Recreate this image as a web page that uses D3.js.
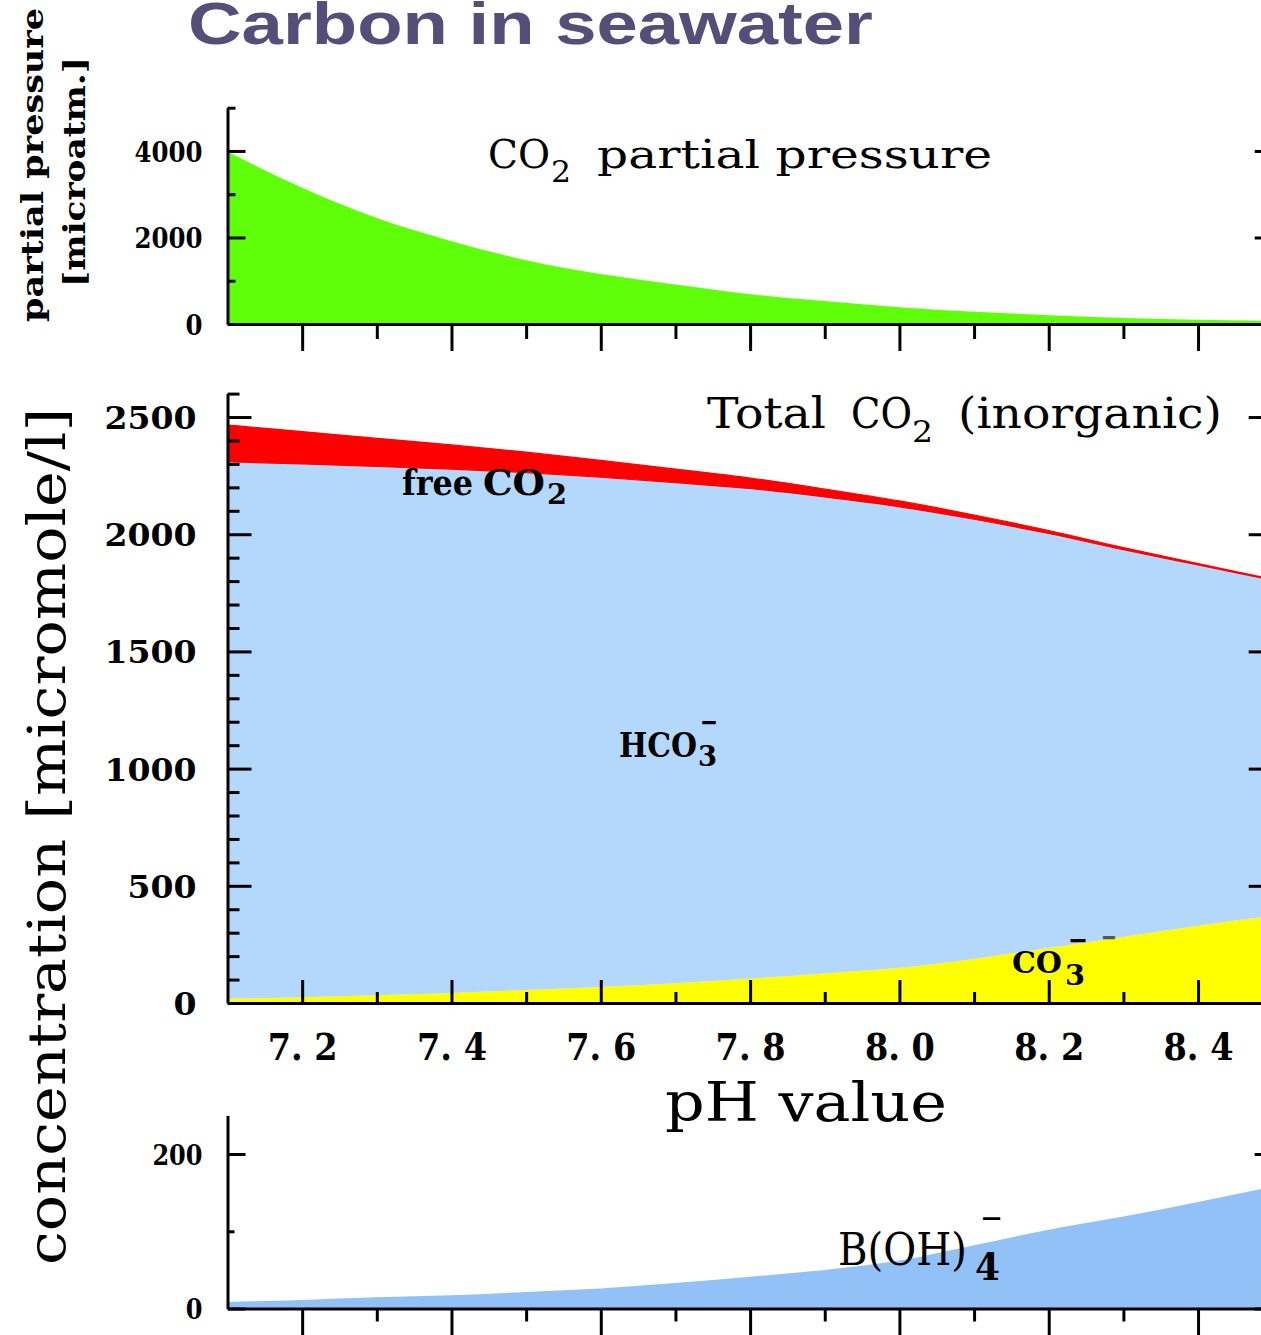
<!DOCTYPE html>
<html><head><meta charset="utf-8">
<script src="https://cdn.jsdelivr.net/npm/d3@7"></script>
<style>html,body{margin:0;padding:0;background:#fff;overflow:hidden}</style>
</head><body>
<svg id="chart" width="1261" height="1335"></svg>
<script>
// ---------- data ----------
const pH        = [7.1, 7.2, 7.3, 7.4, 7.5, 7.6, 7.7, 7.8, 7.9, 8.0, 8.1, 8.2, 8.3, 8.4, 8.5];
const pCO2      = [3980, 3150, 2450, 1915, 1475, 1155, 915, 690, 530, 390, 285, 205, 140, 100, 72];
const totalCO2  = [2466, 2438, 2409, 2381, 2350, 2315, 2278, 2240, 2193, 2142, 2082, 2016, 1943, 1875, 1808];
const freeCO2   = [157, 138, 120, 103, 87, 72, 58, 45, 34, 25, 18, 13, 9, 6, 4];
const carbonate = [18, 25, 33, 43, 55, 68, 84, 104, 126, 150, 188, 235, 282, 330, 372];
const borate    = [8.5, 11, 14.5, 17, 21.5, 26, 33, 41, 50, 62, 82, 102, 119, 138, 158];

const xTicksMajor = [7.2, 7.4, 7.6, 7.8, 8.0, 8.2, 8.4];
const xTickLabels = ["7. 2", "7. 4", "7. 6", "7. 8", "8. 0", "8. 2", "8. 4"];
const xTicksMinor = [7.3, 7.5, 7.7, 7.9, 8.1, 8.3];
const pTicksMajor = [0, 2000, 4000];
const pTicksMinor = [1000, 3000, 5000];
const cTicksMajor = [0, 500, 1000, 1500, 2000, 2500];
const cTicksMinor = [100, 200, 300, 400, 600, 700, 800, 900, 1100, 1200, 1300, 1400,
                     1600, 1700, 1800, 1900, 2100, 2200, 2300, 2400, 2600];
const bTicksMajor = [0, 200];
const bTicksMinor = [100];

// ---------- layout ----------
const svg = d3.select("#chart");
const SERIF = "'DejaVu Serif', serif";
const x = d3.scaleLinear().domain([7.1, 8.5]).range([227.5, 1272.7]);
const yTop = d3.scaleLinear().domain([0, 5000]).range([324, 107.7]);
const yMid = d3.scaleLinear().domain([0, 2600]).range([1003, 393.6]);
const yBot = d3.scaleLinear().domain([0, 250]).range([1308.5, 1115.4]);
const curve = d3.curveMonotoneX;

// ---------- areas ----------
const gA = svg.append("g");
gA.append("path")
  .attr("d", d3.area().curve(curve).x((d, i) => x(pH[i])).y0(yTop(0)).y1(d => yTop(d))(pCO2))
  .attr("fill", "#5fff0a");

const rows = pH.map((p, i) => ({
  pH: p, co3: carbonate[i], hco3: totalCO2[i] - freeCO2[i] - carbonate[i], co2: freeCO2[i]
}));
const stack = d3.stack().keys(["co3", "hco3", "co2"])(rows);
const stackColors = { co3: "#ffff00", hco3: "#b4d8fb", co2: "#ff0000" };
const area = d3.area().curve(curve).x(d => x(d.data.pH)).y0(d => yMid(d[0])).y1(d => yMid(d[1]));
gA.selectAll("path.stk").data(stack).join("path")
  .attr("class", "stk")
  .attr("d", area)
  .attr("fill", s => stackColors[s.key])
  .attr("stroke", s => s.key === "co2" ? "#ff0000" : "none")
  .attr("stroke-width", 1.2);

gA.append("path")
  .attr("d", d3.area().curve(curve).x((d, i) => x(pH[i])).y0(yBot(0)).y1(d => yBot(d))(borate))
  .attr("fill", "#92c1f7");

// ---------- axes ----------
function styleAxis(g) {
  g.selectAll(".domain").attr("stroke", "#000").attr("stroke-width", 3);
  g.selectAll(".tick line").attr("stroke", "#000").attr("stroke-width", 3);
}
function axis(gen, tx, ty, labels) {
  const g = svg.append("g").attr("transform", `translate(${tx},${ty})`).call(gen);
  styleAxis(g);
  if (!labels) g.selectAll(".tick text").remove();
  return g;
}
function minor(gen, tx, ty) {
  const g = axis(gen.tickFormat(""), tx, ty, false);
  g.select(".domain").remove();
  return g;
}
function yLabels(g, size, per) {
  g.selectAll(".tick text")
    .attr("font-family", SERIF).attr("font-weight", "bold").attr("font-size", size)
    .attr("fill", "#000").attr("dy", "0.36em")
    .each(function (d) {
      const s = String(d);
      d3.select(this).attr("textLength", s.length * per).attr("lengthAdjust", "spacingAndGlyphs");
    });
}
const XL = 227.5, XR = 1272.7;

// top panel
yLabels(axis(d3.axisLeft(yTop).tickValues(pTicksMajor).tickSize(-18).tickSizeOuter(0).tickPadding(25).tickFormat(d3.format("d")), XL, 0, true), 28, 17);
minor(d3.axisLeft(yTop).tickValues(pTicksMinor).tickSize(-8), XL, 0);
axis(d3.axisRight(yTop).tickValues(pTicksMajor).tickSize(-18).tickSizeOuter(0), XR, 0, false);
minor(d3.axisRight(yTop).tickValues(pTicksMinor).tickSize(-8), XR, 0);
axis(d3.axisBottom(x).tickValues(xTicksMajor).tickSize(27).tickSizeOuter(0).tickFormat(""), 0, yTop(0), false);
minor(d3.axisBottom(x).tickValues(xTicksMinor).tickSize(15), 0, yTop(0));

// middle panel
yLabels(axis(d3.axisLeft(yMid).tickValues(cTicksMajor).tickSize(-24).tickSizeOuter(0).tickPadding(31).tickFormat(d3.format("d")), XL, 0, true), 32, 23);
minor(d3.axisLeft(yMid).tickValues(cTicksMinor).tickSize(-12), XL, 0);
axis(d3.axisRight(yMid).tickValues(cTicksMajor).tickSize(-24).tickSizeOuter(0), XR, 0, false);
minor(d3.axisRight(yMid).tickValues(cTicksMinor).tickSize(-11), XR, 0);
const gxm = axis(d3.axisBottom(x).tickValues(xTicksMajor).tickSize(-23).tickSizeOuter(0)
  .tickFormat((d, i) => xTickLabels[i]), 0, yMid(0), true);
gxm.selectAll(".tick text")
  .attr("y", 57).attr("dy", null)
  .attr("font-family", SERIF).attr("font-weight", "bold").attr("font-size", 38).attr("fill", "#000")
  .attr("textLength", 70).attr("lengthAdjust", "spacingAndGlyphs");
minor(d3.axisBottom(x).tickValues(xTicksMinor).tickSize(-11), 0, yMid(0));

// bottom panel
yLabels(axis(d3.axisLeft(yBot).tickValues(bTicksMajor).tickSize(-18).tickSizeOuter(0).tickPadding(25).tickFormat(d3.format("d")), XL, 0, true), 28, 16.7);
minor(d3.axisLeft(yBot).tickValues(bTicksMinor).tickSize(-7), XL, 0);
axis(d3.axisRight(yBot).tickValues(bTicksMajor).tickSize(-18).tickSizeOuter(0), XR, 0, false);
minor(d3.axisRight(yBot).tickValues(bTicksMinor).tickSize(-7), XR, 0);
axis(d3.axisBottom(x).tickValues(xTicksMajor).tickSize(27).tickSizeOuter(0).tickFormat(""), 0, yBot(0), false);
minor(d3.axisBottom(x).tickValues(xTicksMinor).tickSize(13), 0, yBot(0));

// ---------- text ----------
const gT = svg.append("g");
function txt(s, px, py, o) {
  const t = gT.append("text").attr("x", px).attr("y", py).text(s)
    .attr("font-family", o.family || SERIF)
    .attr("font-size", o.size)
    .attr("font-weight", o.weight || "normal")
    .attr("fill", o.fill || "#000");
  if (o.w) t.attr("textLength", o.w).attr("lengthAdjust", "spacingAndGlyphs");
  if (o.rot) t.attr("transform", `rotate(${o.rot},${px},${py})`);
  return t;
}
txt("Carbon in seawater", 188, 44, { family: "'Liberation Sans', Arial, sans-serif", size: 60, weight: "bold", fill: "#544e79", w: 685 });

txt("partial pressure", 43, 322, { size: 30, weight: "bold", w: 314, rot: -90 });
txt("[microatm.]", 85, 287, { size: 30, weight: "bold", w: 230, rot: -90 });
txt("concentration [micromole/l]", 65, 1265, { size: 52, w: 857, rot: -90 });
txt("pH value", 665, 1121, { size: 54, w: 282 });

txt("CO", 488, 168, { size: 40, w: 62 });
txt("2", 551, 182, { size: 30, w: 20 });
txt("partial pressure", 597, 168, { size: 40, w: 395 });

txt("Total", 707, 428, { size: 42, w: 119 });
txt("CO", 851, 428, { size: 42, w: 61 });
txt("2", 912, 442, { size: 30, w: 21 });
txt("(inorganic)", 958, 428, { size: 42, w: 264 });

txt("free", 402, 495, { size: 36, weight: "bold", w: 71 });
txt("CO", 483, 495, { size: 36, weight: "bold", w: 62 });
txt("2", 547, 504, { size: 28, weight: "bold", w: 20 });

txt("HCO", 619, 757, { size: 34, weight: "bold", w: 78 });
txt("3", 698, 766, { size: 28, weight: "bold", w: 19 });
txt("\u2212", 700, 732, { size: 30, weight: "bold", w: 18 });

txt("CO", 1012, 973, { size: 30, weight: "bold", w: 50 });
txt("3", 1065, 985, { size: 28, weight: "bold", w: 20 });
txt("\u2212", 1068, 950, { size: 30, weight: "bold", w: 20 });
txt("\u2212", 1101, 947, { size: 30, weight: "bold", w: 16, fill: "#555" });

txt("B(OH)", 838, 1265, { size: 44, w: 129 });
txt("4", 975, 1280, { size: 38, weight: "bold", w: 25 });
txt("\u2212", 980, 1230, { size: 36, w: 23 });
</script>
</body></html>
